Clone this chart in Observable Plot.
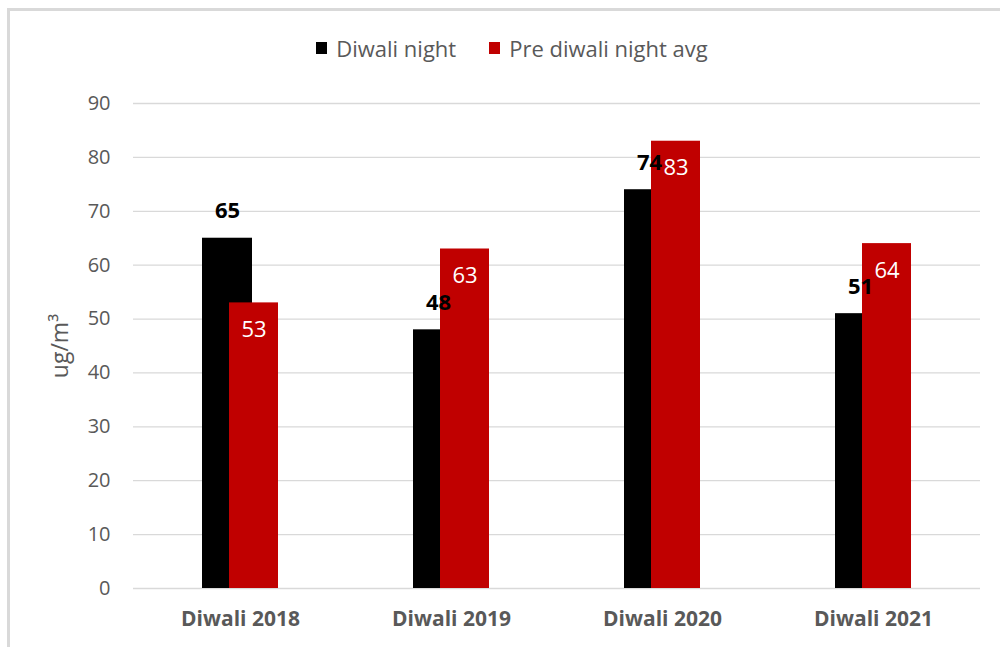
<!DOCTYPE html>
<html>
<head>
<meta charset="utf-8">
<script src="https://cdn.jsdelivr.net/npm/d3@7"></script>
<script src="https://cdn.jsdelivr.net/npm/@observablehq/plot@0.6"></script>
<style>
  html, body { margin: 0; padding: 0; background: #fff; }
  #wrap { position: relative; width: 1000px; height: 647px; overflow: hidden; font-family: "Open Sans", sans-serif; }
  #frame { position: absolute; left: 7px; top: 8px; width: 1100px; height: 700px; border-left: 3px solid #d9d9d9; border-top: 3px solid #d9d9d9; pointer-events: none; }
  #legend { height: 80px; display: flex; align-items: center; justify-content: center; padding-left: 24px; box-sizing: border-box; padding-top: 16px; }
  .item { display: flex; align-items: center; font-size: 22px; color: #595959; }
  .sw { width: 11px; height: 12px; margin-right: 9px; }
  #chart { display: block; }
</style>
</head>
<body>
<div id="wrap">
  <div id="legend"></div>
  <div id="chart"></div>
  <div id="frame"></div>
</div>
<script>
const categories = ["Diwali 2018", "Diwali 2019", "Diwali 2020", "Diwali 2021"];
const diwaliNight = [65, 48, 74, 51];
const preDiwaliAvg = [53, 63, 83, 64];
const seriesNames = ["Diwali night", "Pre diwali night avg"];
const seriesColors = ["#000000", "#c00000"];
const yTicks = [0, 10, 20, 30, 40, 50, 60, 70, 80, 90];

const rows = categories.map((c, i) => ({category: c, night: diwaliNight[i], pre: preDiwaliAvg[i]}));

// legend
const legend = document.getElementById("legend");
seriesNames.forEach((name, i) => {
  const item = document.createElement("div");
  item.className = "item";
  if (i > 0) item.style.marginLeft = "33px";
  const sw = document.createElement("span");
  sw.className = "sw";
  sw.style.background = seriesColors[i];
  const t = document.createElement("span");
  t.textContent = name;
  item.appendChild(sw);
  item.appendChild(t);
  legend.appendChild(item);
});

const chart = Plot.plot({
  width: 1000,
  height: 567,
  marginTop: 23,
  marginBottom: 59,
  marginLeft: 133,
  marginRight: 20,
  style: {fontFamily: "Open Sans, sans-serif", background: "transparent"},
  x: {domain: categories, paddingInner: 0.641, paddingOuter: 0.3205, label: null},
  y: {domain: [0, 90], label: null},
  marks: [
    Plot.gridY(yTicks, {stroke: "#d9d9d9", strokeOpacity: 1, strokeWidth: 1.3}),
    Plot.axisY({ticks: yTicks, tickSize: 0, tickPadding: 23, fontSize: 20, fill: "#595959", label: null}),
    Plot.axisY({ticks: [], tickSize: 0, label: "ug/m³", labelAnchor: "center", labelOffset: 82, labelArrow: "none", fontSize: 23, fill: "#595959"}),
    Plot.axisX({tickSize: 0, tickPadding: 23, fontSize: 21, fontWeight: "bold", fill: "#595959", label: null}),
    Plot.barY(rows, {x: "category", y: "night", fill: seriesColors[0], insetRight: 26}),
    Plot.barY(rows, {x: "category", y: "pre", fill: seriesColors[1], insetLeft: 27}),
    Plot.text(rows, {x: "category", y: "night", text: d => String(d.night), dx: -13, dy: -27, fontSize: 22, fontWeight: "bold", fill: "#000"}),
    Plot.text(rows, {x: "category", y: "pre", text: d => String(d.pre), dx: 13.5, dy: 27, fontSize: 22, fill: "#fff"})
  ]
});
document.getElementById("chart").appendChild(chart);
</script>
</body>
</html>
